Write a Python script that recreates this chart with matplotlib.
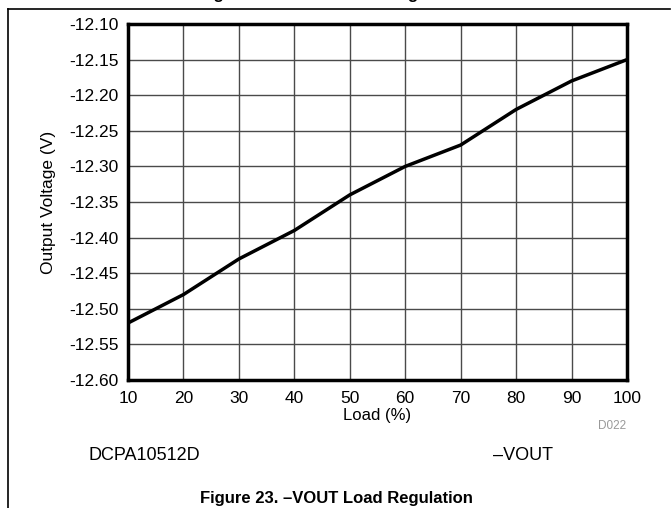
import matplotlib
matplotlib.use("Agg")
import matplotlib.pyplot as plt
from matplotlib.lines import Line2D

plt.rcParams['font.family'] = ['Liberation Sans', 'DejaVu Sans']

load_pct = [10, 20, 30, 40, 50, 60, 70, 80, 90, 100]
vout = [-12.52, -12.48, -12.43, -12.39, -12.34, -12.30, -12.27, -12.22, -12.18, -12.15]
x_ticks = [10, 20, 30, 40, 50, 60, 70, 80, 90, 100]
y_ticks = [-12.60, -12.55, -12.50, -12.45, -12.40, -12.35, -12.30, -12.25, -12.20, -12.15, -12.10]

W, H = 671, 508
fig = plt.figure(figsize=(W / 100, H / 100), dpi=100)
ax = fig.add_axes([128 / W, 1 - 380 / H, (627 - 128) / W, (380 - 24) / H])

ax.plot(load_pct, vout, color='black', lw=2.5, solid_joinstyle='round')
ax.set_xlim(10, 100)
ax.set_ylim(-12.60, -12.10)
ax.set_xticks(x_ticks)
ax.set_xticklabels([str(v) for v in x_ticks])
ax.set_yticks(y_ticks)
ax.set_yticklabels([f"{v:.2f}" for v in y_ticks])
ax.grid(True, color='#4a4a4a', lw=1.0)
ax.tick_params(length=0, labelsize=12.5)
ax.tick_params(axis='x', pad=8)
ax.tick_params(axis='y', pad=7)
for s in ax.spines.values():
    s.set_linewidth(2.5)
ax.set_xlabel('Load (%)', fontsize=12, labelpad=1.5)
ax.set_ylabel('Output Voltage (V)', fontsize=12.5, labelpad=9)

# frame lines
fig.add_artist(Line2D([8 / W, 8 / W], [0, 1 - 9 / H], color='black', lw=1.2, transform=fig.transFigure))
fig.add_artist(Line2D([8 / W, 670 / W], [1 - 9 / H, 1 - 9 / H], color='black', lw=1.2, transform=fig.transFigure))

# bottom of the previous figure's caption, cut by the page edge as in the reference
fig.text(336 / W, 1 + 1 / H, 'Figure 22. +VOUT Load Regulation', ha='center', va='baseline',
         fontsize=12, fontweight='bold')

fig.text(626 / W, 1 - 426 / H, 'D022', ha='right', va='center', fontsize=8.5, color='#999999')
fig.text(88 / W, 1 - 455 / H, 'DCPA10512D', ha='left', va='center', fontsize=13)
fig.text(523 / W, 1 - 455 / H, '\u2013VOUT', ha='center', va='center', fontsize=13)
fig.text(336 / W, 1 - 499 / H, 'Figure 23. \u2013VOUT Load Regulation', ha='center', va='center',
         fontsize=12, fontweight='bold')

fig.savefig('out.png', dpi=100)
